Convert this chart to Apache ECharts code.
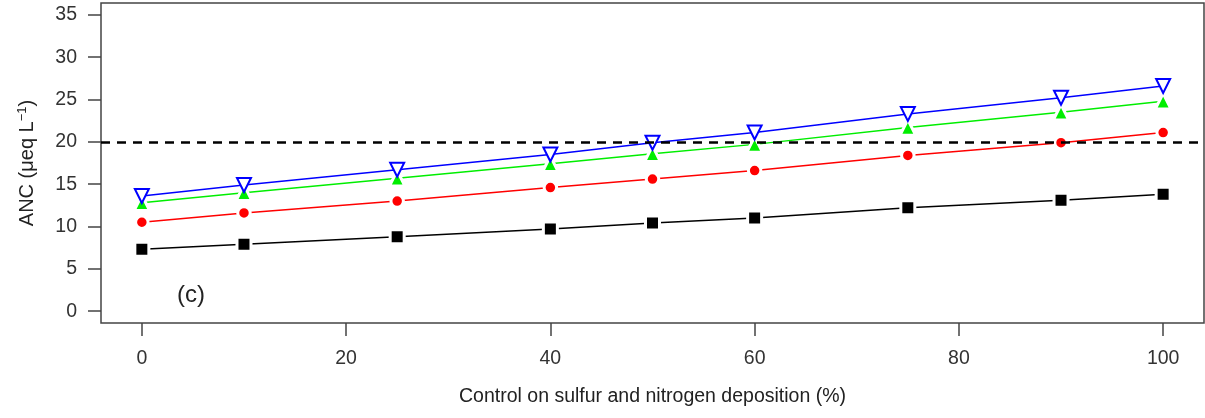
<!DOCTYPE html>
<html>
<head>
<meta charset="utf-8">
<script src="https://cdn.jsdelivr.net/npm/echarts@6/dist/echarts.min.js"></script>
<style>
  html, body { margin: 0; padding: 0; background: #fff; }
  #chart { width: 1205px; height: 418px; }
</style>
</head>
<body>
<div id="chart"></div>
<script>
// control on S and N deposition (%)
const control = [0, 10, 25, 40, 50, 60, 75, 90, 100]

const ancBlack = [7.3, 7.9, 8.8, 9.7, 10.4, 11.0, 12.2, 13.1, 13.8]
const ancRed = [10.5, 11.6, 13.0, 14.6, 15.6, 16.6, 18.4, 19.9, 21.1]
const ancGreen = [12.8, 14.0, 15.7, 17.4, 18.6, 19.7, 21.7, 23.5, 24.8]
const ancBlue = [13.6, 14.9, 16.7, 18.5, 19.9, 21.1, 23.3, 25.2, 26.6]

const threshold = 20
const xTicks = [0, 20, 40, 60, 80, 100]
const yTicks = [0, 5, 10, 15, 20, 25, 30, 35]

const font = 'Liberation Sans, Arial, sans-serif'

const chart = echarts.init(document.getElementById('chart'))

const pairs = vals => control.map((c, i) => [c, vals[i]])

const makeSeries = (name, vals, color, symbol, size, extra) => ({
  name,
  type: 'line',
  data: pairs(vals),
  symbol,
  symbolSize: size,
  showAllSymbol: true,
  lineStyle: { color, width: 1.5 },
  itemStyle: { color, borderColor: '#fff', borderWidth: 3 },
  emphasis: { disabled: true },
  animation: false,
  ...extra
})

const option = {
  animation: false,
  grid: {
    left: 101, right: 1, top: 3, bottom: 95,
    show: true, borderColor: '#444', borderWidth: 1.5
  },
  xAxis: {
    type: 'value',
    min: -4,
    max: 104,
    splitLine: { show: false },
    axisLine: { show: false, onZero: false },
    axisTick: { show: true, customValues: xTicks, length: 13, lineStyle: { color: '#444', width: 1.5 } },
    axisLabel: { customValues: xTicks, margin: 26, fontSize: 19.5, color: '#333', fontFamily: font },
    name: 'Control on sulfur and nitrogen deposition (%)',
    nameLocation: 'middle',
    nameGap: 64,
    nameTextStyle: { fontSize: 19.5, color: '#222', fontFamily: font }
  },
  yAxis: {
    type: 'value',
    min: -1.4,
    max: 36.4,
    splitLine: { show: false },
    axisLine: { show: false, onZero: false },
    axisTick: { show: true, customValues: yTicks, length: 13, lineStyle: { color: '#444', width: 1.5 } },
    axisLabel: { customValues: yTicks, margin: 24, fontSize: 19.5, color: '#333', fontFamily: font },
    name: 'ANC (μeq L{sup|−1})',
    nameLocation: 'middle',
    nameGap: 63,
    nameTextStyle: {
      fontSize: 20, color: '#222', fontFamily: font, lineHeight: 22,
      rich: { sup: { fontSize: 13, fontFamily: font, color: '#222', verticalAlign: 'top', lineHeight: 22 } }
    }
  },
  series: [
    makeSeries('black', ancBlack, '#000000', 'rect', 14),
    makeSeries('red', ancRed, '#ff0000', 'circle', 12.5),
    makeSeries('green', ancGreen, '#00ee00', 'triangle', 15.5),
    makeSeries('blue', ancBlue, '#0000ff', 'triangle', 14, {
      symbolRotate: 180,
      itemStyle: { color: '#fff', borderColor: '#0000ff', borderWidth: 2 },
      markLine: {
        silent: true,
        symbol: 'none',
        label: { show: false },
        lineStyle: { color: '#000', type: [9, 7], width: 2.5 },
        data: [{ yAxis: threshold }]
      }
    })
  ],
  graphic: [{
    type: 'text',
    left: 177,
    top: 283,
    style: { text: '(c)', fill: '#222', font: '24px ' + font }
  }]
}

chart.setOption(option)
</script>
</body>
</html>
